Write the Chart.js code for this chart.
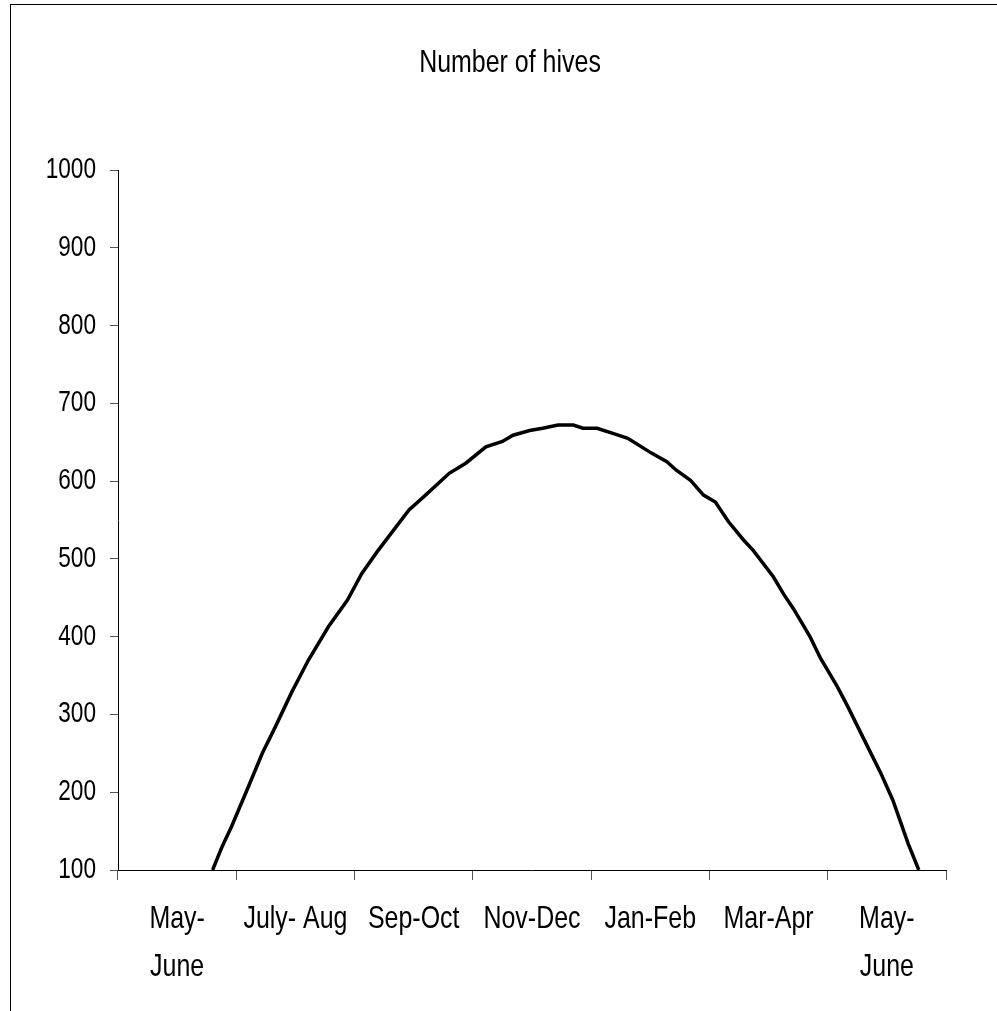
<!DOCTYPE html>
<html>
<head>
<meta charset="utf-8">
<title>Number of hives</title>
<script src="https://cdn.jsdelivr.net/npm/chart.js@4.4.1/dist/chart.umd.min.js"></script>
<style>
  html, body { margin: 0; padding: 0; background: #fff; }
  #wrap { position: relative; width: 997px; height: 1011px; overflow: hidden; }
  #frame { position: absolute; left: 10px; top: 4px; right: -10px; bottom: -10px;
           border-left: 1px solid #000; border-top: 1px solid #000; }
  canvas { position: absolute; left: 0; top: 0; }
</style>
</head>
<body>
<div id="wrap">
  <div id="frame"></div>
  <canvas id="chart" width="997" height="1011"></canvas>
</div>
<script>
// Two-month periods along the bottom axis
const periods = [['May-', 'June'], 'July- Aug', 'Sep-Oct', 'Nov-Dec', 'Jan-Feb', 'Mar-Apr', ['May-', 'June']];

// Position of each reading, measured in periods (0 = first May-June)
const periodPos = [
  0.30, 0.38, 0.46, 0.58, 0.72, 0.83, 0.97, 1.11, 1.28, 1.44,
  1.56, 1.69, 1.82, 1.96, 2.10, 2.30, 2.44, 2.61, 2.75, 2.84,
  2.98, 3.09, 3.22, 3.35, 3.43, 3.55, 3.69, 3.81, 4.01, 4.14,
  4.22, 4.34, 4.45, 4.55, 4.66, 4.79, 4.87, 5.04, 5.13, 5.21,
  5.35, 5.44, 5.58, 5.67, 5.81, 5.95, 6.05, 6.12, 6.18, 6.27
];

// Number of hives at each reading
const hives = [
  100, 130, 156, 199, 250, 284, 329, 370, 413, 447,
  481, 509, 535, 563, 582, 610, 623, 644, 651, 659,
  665, 668, 672, 672, 668, 668, 661, 655, 636, 625,
  614, 601, 582, 573, 548, 524, 511, 477, 454, 436,
  400, 372, 336, 310, 267, 224, 190, 160, 134, 100
];

// Value axis ticks
const yMin = 100, yMax = 1000, yStep = 100;

const fontFamily = "'Liberation Sans', Arial, sans-serif";
const NARROW = 0.78; // horizontal squeeze giving a narrow sans look

// Narrow lettering: squeeze every label horizontally around its own anchor point
const narrowText = {
  id: 'narrowText',
  beforeDraw(chart) {
    const ctx = chart.ctx;
    if (ctx.__narrow) return;
    const fill = ctx.fillText;
    ctx.fillText = function (text, x, y, maxWidth) {
      this.save();
      this.translate(x, y);
      this.scale(NARROW, 1);
      if (maxWidth === undefined) fill.call(this, text, 0, 0);
      else fill.call(this, text, 0, 0, maxWidth / NARROW);
      this.restore();
    };
    ctx.__narrow = true;
  }
};

const points = periodPos.map((p, i) => ({ x: p, y: hives[i] }));

new Chart(document.getElementById('chart'), {
  type: 'line',
  data: {
    labels: periods,
    datasets: [{
      label: 'Number of hives',
      data: points,
      xAxisID: 'xv',
      yAxisID: 'y',
      borderColor: '#000',
      borderWidth: 3.5,
      pointRadius: 0,
      tension: 0,
      fill: false
    }]
  },
  plugins: [narrowText],
  options: {
    responsive: false,
    animation: false,
    devicePixelRatio: 1,
    layout: { padding: { left: 23, right: 0, top: 0, bottom: 0 } },
    plugins: {
      legend: { display: false },
      tooltip: { enabled: false },
      title: {
        display: true,
        text: 'Number of hives',
        color: '#000',
        font: { family: fontFamily, size: 32, weight: 'normal', lineHeight: 1.2 },
        padding: { top: 44, bottom: 87.6 }
      }
    },
    scales: {
      x: {
        type: 'category',
        position: 'bottom',
        offset: true,
        grid: { offset: true, drawOnChartArea: false, drawTicks: true, tickLength: 10, color: '#555', lineWidth: 1 },
        border: { display: true, color: '#000', width: 1 },
        ticks: {
          color: '#000',
          padding: 15,
          autoSkip: false,
          maxRotation: 0,
          font: { family: fontFamily, size: 32, lineHeight: 1.5 }
        },
        afterFit: (s) => { s.height = 141; }
      },
      xv: {
        type: 'linear',
        position: 'bottom',
        display: false,
        min: -0.5,
        max: 6.5
      },
      y: {
        type: 'linear',
        position: 'left',
        min: yMin,
        max: yMax,
        grid: { drawOnChartArea: false, drawTicks: true, tickLength: 8, color: '#555', lineWidth: 1 },
        border: { display: true, color: '#000', width: 1 },
        ticks: {
          stepSize: yStep,
          color: '#000',
          padding: 14,
          font: { family: fontFamily, size: 29 },
          callback: (v) => String(v)
        },
        afterFit: (s) => { s.width = 95; }
      },
      // empty margin on the right of the plot
      yr: {
        type: 'linear',
        position: 'right',
        min: yMin,
        max: yMax,
        grid: { display: false },
        border: { display: false },
        ticks: { display: false },
        afterFit: (s) => { s.width = 51; }
      }
    }
  }
});
</script>
</body>
</html>
